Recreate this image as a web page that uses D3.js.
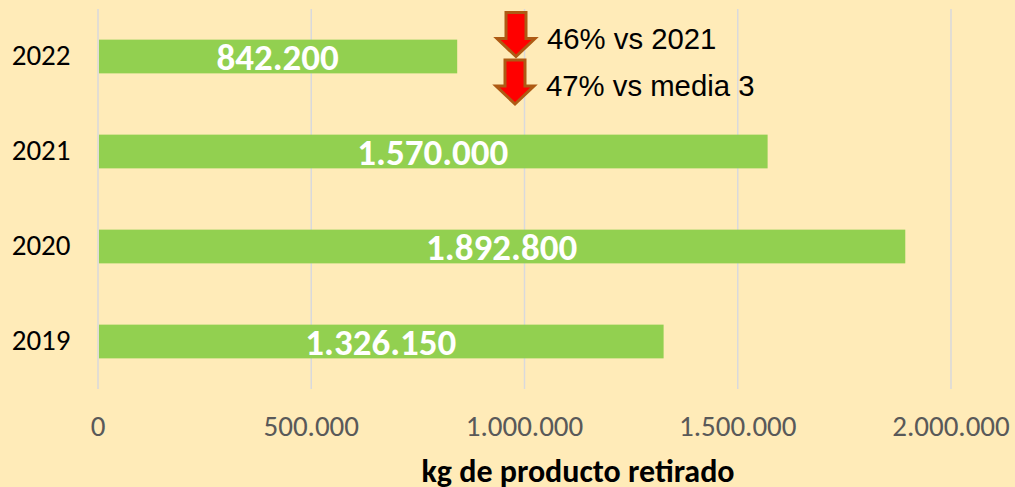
<!DOCTYPE html>
<html><head><meta charset="utf-8">
<script src="https://cdn.jsdelivr.net/npm/d3@7"></script>
<style>html,body{margin:0;padding:0;background:#FFEBB8;overflow:hidden}svg{display:block}</style>
</head><body><svg id="c" width="1015" height="487"></svg>
<script>
const years = ["2022","2021","2020","2019"];
const values = [842200,1570000,1892800,1326150];
const valueLabels = ["842.200","1.570.000","1.892.800","1.326.150"];
const xTicks = [0,500000,1000000,1500000,2000000];
const xTickLabels = ["0","500.000","1.000.000","1.500.000","2.000.000"];
const notes = ["46% vs 2021","47% vs media 3"];
const xTitle = "kg de producto retirado";

const svg = d3.select("#c");
svg.append("rect").attr("width",1015).attr("height",487).attr("fill","#FFEBB8");
const x = d3.scaleLinear().domain([0,2000000]).range([98,951]);
const y = d3.scaleBand().domain(years).range([9,389]).paddingInner(0.645).paddingOuter(0.3225);
const calibri = "Carlito, Calibri, Lato, sans-serif";

svg.selectAll("line.g").data(xTicks).join("line").attr("class","g")
  .attr("x1",d=>x(d)).attr("x2",d=>x(d)).attr("y1",9).attr("y2",389)
  .attr("stroke","#D9D9DC").attr("stroke-width",1.5);

svg.selectAll("rect.b").data(values).join("rect").attr("class","b")
  .attr("x",x(0)+1).attr("y",(d,i)=>y(years[i]))
  .attr("width",d=>x(d)-x(0)-1).attr("height",y.bandwidth()).attr("fill","#92D050");

svg.selectAll("text.v").data(valueLabels).join("text").attr("class","v")
  .attr("x",(d,i)=>x(values[i]/2)).attr("y",(d,i)=>y(years[i])+y.bandwidth()/2+13.5)
  .attr("text-anchor","middle").attr("font-family",calibri).attr("font-weight",700)
  .attr("font-size",37).attr("fill","#fff").text(d=>d);

svg.selectAll("text.y").data(years).join("text").attr("class","y")
  .attr("x",70.5).attr("y",d=>y(d)+y.bandwidth()/2+8.5).attr("text-anchor","end")
  .attr("font-family",calibri).attr("font-size",29).attr("fill","#000").text(d=>d);

svg.selectAll("text.x").data(xTicks).join("text").attr("class","x")
  .attr("x",d=>x(d)).attr("y",436).attr("text-anchor","middle")
  .attr("font-family",calibri).attr("font-size",29).attr("fill","#595959").text((d,i)=>xTickLabels[i]);

svg.append("text").attr("x",578).attr("y",481.5).attr("text-anchor","middle")
  .attr("font-family",calibri).attr("font-weight",700).attr("font-size",32).attr("fill","#000").text(xTitle);

const arrow = d3.line();
[[516,12.5],[515,60]].forEach(([cx,t])=>{
  svg.append("path").attr("d",arrow([[cx-10,t],[cx+10,t],[cx+10,t+26],[cx+19,t+26],[cx,t+44],[cx-19,t+26],[cx-10,t+26]])+"Z")
    .attr("fill","#FF0000").attr("stroke","#AE5A14").attr("stroke-width",3);
});
svg.selectAll("text.n").data(notes).join("text").attr("class","n")
  .attr("x",(d,i)=>i?546:547).attr("y",(d,i)=>i?96:49)
  .attr("font-family","'Liberation Sans',Arial,sans-serif").attr("font-size",29.3).attr("fill","#000").text(d=>d);
</script></body></html>
